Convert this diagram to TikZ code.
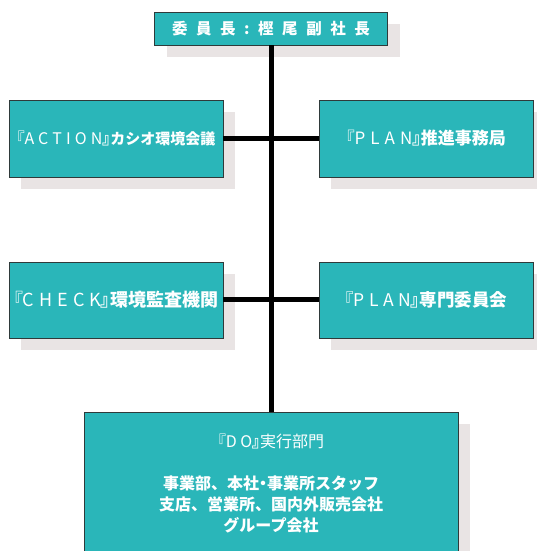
\documentclass[tikz,border=0pt]{standalone}
\usepackage{fontspec}
\setmainfont{Noto Sans CJK JP}
\usetikzlibrary{shadows}
\definecolor{teal1}{HTML}{2AB6B9}
\definecolor{shade1}{HTML}{E9E4E4}
\definecolor{edge1}{HTML}{2F3A3A}
\newcommand{\lsp}[2]{{\addfontfeature{CharacterWidth=AlternateProportional}\mdseries 『}{\addfontfeature{LetterSpace=#1}\mdseries #2}{\addfontfeature{CharacterWidth=AlternateProportional}』}}
\newcommand{\pt}[1]{{\addfontfeature{CharacterWidth=AlternateProportional}#1}}
\newcommand{\fs}[1]{\fontsize{#1}{#1}\selectfont}
\tikzset{
  box/.style={draw=edge1, line width=0.8pt, fill=teal1, text=white, font=\bfseries\fs{15},
    align=center, inner sep=0pt,
    general shadow={shadow xshift=12pt, shadow yshift=-12pt, fill=shade1}},
  conn/.style={line width=5pt, black}
}
\begin{document}
\begin{tikzpicture}[x=1pt,y=1pt]
\useasboundingbox (0,0) rectangle (536,551);
\node[box, minimum width=233pt, minimum height=33pt, font=\bfseries\fs{15.5}\addfontfeature{LetterSpace=55}] (top) at (271,522.5) {委員長:樫尾副社長};
\node[box, minimum width=214pt, minimum height=77pt, font=\bfseries\fs{15}] (action) at (116,412.5) {{\fs{16}\lsp{26}{ACTION}}カシオ環境会議};
\node[box, minimum width=214pt, minimum height=77pt, font=\bfseries\fs{17}] (plana) at (426,412.5) {\lsp{30}{PLAN}推進事務局};
\node[box, minimum width=214pt, minimum height=76pt, font=\bfseries\fs{18}] (check) at (116,251) {\lsp{28}{CHECK}環境監査機関};
\node[box, minimum width=214pt, minimum height=76pt, font=\bfseries\fs{17.5}] (planb) at (426,251) {\lsp{26}{PLAN}専門委員会};
\node[box, minimum width=374pt, minimum height=144pt, font=\bfseries\fontsize{16}{21}\selectfont] (do) at (271,67) {%
  \lsp{22}{DO}{\mdseries 実行部門}\\[21pt]
  事業部、本社\pt{・}事業所スタッフ\\
  支店、営業所、国内外販売会社\\
  グループ会社};
\draw[conn] (top.south) -- (do.north);
\draw[conn] (action.east) -- (plana.west);
\draw[conn] (check.east) -- (planb.west);
\end{tikzpicture}
\end{document}
